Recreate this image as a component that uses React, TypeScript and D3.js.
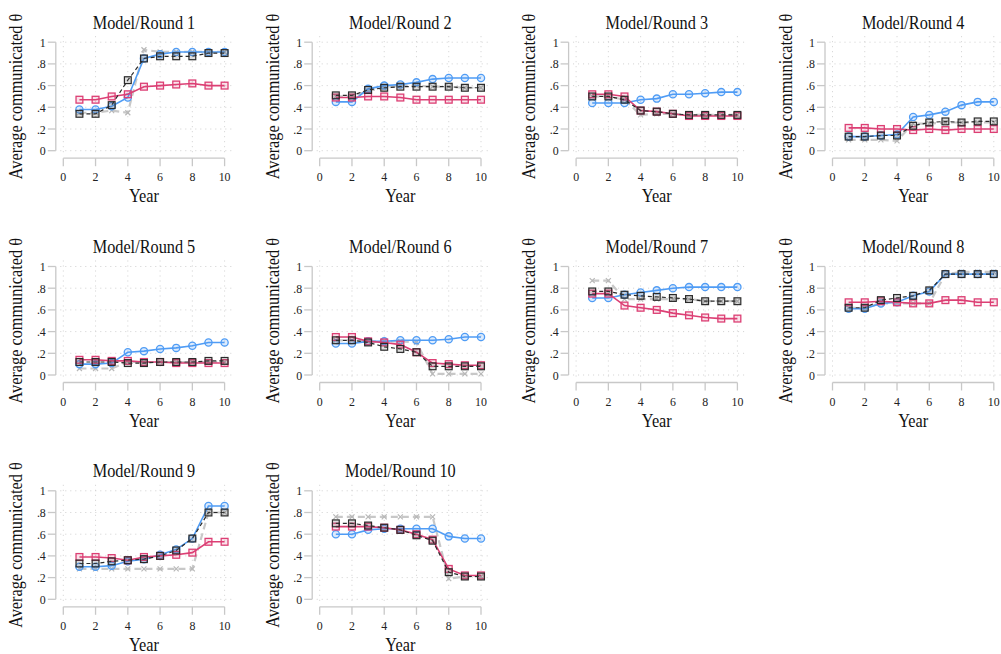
import React from "react";
import * as d3 from "d3";

const years = [1, 2, 3, 4, 5, 6, 7, 8, 9, 10];
const xTicks = [0, 2, 4, 6, 8, 10];
const yTicks = [0, 0.2, 0.4, 0.6, 0.8, 1];
const yTickLabels = ["0", ".2", ".4", ".6", ".8", "1"];
const panelTitles = [
  "Model/Round 1", "Model/Round 2", "Model/Round 3", "Model/Round 4", "Model/Round 5",
  "Model/Round 6", "Model/Round 7", "Model/Round 8", "Model/Round 9", "Model/Round 10",
];

// gray "x" series (long dashed)
const graySeries = [
  [0.35, 0.35, 0.37, 0.35, 0.93, 0.91, 0.91, 0.91, 0.91, 0.91],
  [0.5, 0.5, 0.55, 0.58, 0.6, 0.6, 0.59, 0.59, 0.58, 0.58],
  [0.5, 0.5, 0.47, 0.33, 0.34, 0.34, 0.33, 0.33, 0.33, 0.33],
  [0.1, 0.1, 0.1, 0.09, 0.25, 0.25, 0.26, 0.26, 0.26, 0.26],
  [0.06, 0.06, 0.06, 0.12, 0.12, 0.12, 0.12, 0.12, 0.12, 0.12],
  [0.32, 0.32, 0.31, 0.31, 0.31, 0.3, 0.01, 0.01, 0.01, 0.01],
  [0.87, 0.87, 0.7, 0.7, 0.7, 0.7, 0.7, 0.68, 0.68, 0.68],
  [0.62, 0.62, 0.66, 0.66, 0.66, 0.66, 0.93, 0.95, 0.95, 0.95],
  [0.28, 0.28, 0.28, 0.28, 0.28, 0.28, 0.28, 0.28, 0.8, 0.8],
  [0.76, 0.76, 0.76, 0.76, 0.76, 0.76, 0.76, 0.19, 0.21, 0.21],
];
// blue circle series
const blueSeries = [
  [0.38, 0.38, 0.41, 0.49, 0.85, 0.89, 0.91, 0.91, 0.91, 0.91],
  [0.45, 0.45, 0.57, 0.6, 0.61, 0.63, 0.66, 0.67, 0.67, 0.67],
  [0.44, 0.44, 0.44, 0.47, 0.48, 0.52, 0.52, 0.53, 0.54, 0.54],
  [0.13, 0.13, 0.14, 0.15, 0.31, 0.33, 0.36, 0.42, 0.45, 0.45],
  [0.1, 0.1, 0.11, 0.21, 0.22, 0.24, 0.25, 0.27, 0.3, 0.3],
  [0.29, 0.29, 0.31, 0.31, 0.32, 0.32, 0.32, 0.33, 0.35, 0.35],
  [0.71, 0.71, 0.74, 0.76, 0.78, 0.8, 0.81, 0.81, 0.81, 0.81],
  [0.61, 0.61, 0.66, 0.67, 0.73, 0.77, 0.93, 0.93, 0.93, 0.93],
  [0.3, 0.3, 0.31, 0.35, 0.37, 0.41, 0.46, 0.56, 0.86, 0.86],
  [0.6, 0.6, 0.64, 0.65, 0.65, 0.65, 0.65, 0.58, 0.56, 0.56],
];
// pink square series
const pinkSeries = [
  [0.47, 0.47, 0.5, 0.52, 0.59, 0.6, 0.61, 0.62, 0.6, 0.6],
  [0.49, 0.49, 0.5, 0.5, 0.49, 0.47, 0.47, 0.47, 0.47, 0.47],
  [0.52, 0.52, 0.5, 0.37, 0.36, 0.34, 0.32, 0.32, 0.32, 0.32],
  [0.21, 0.21, 0.2, 0.2, 0.19, 0.2, 0.19, 0.2, 0.2, 0.2],
  [0.14, 0.14, 0.13, 0.13, 0.12, 0.12, 0.11, 0.11, 0.11, 0.11],
  [0.35, 0.35, 0.31, 0.3, 0.28, 0.21, 0.11, 0.1, 0.09, 0.09],
  [0.75, 0.75, 0.64, 0.62, 0.6, 0.57, 0.55, 0.53, 0.52, 0.52],
  [0.67, 0.67, 0.68, 0.67, 0.66, 0.66, 0.69, 0.69, 0.67, 0.67],
  [0.39, 0.39, 0.38, 0.36, 0.39, 0.4, 0.41, 0.43, 0.53, 0.53],
  [0.67, 0.67, 0.67, 0.66, 0.64, 0.6, 0.55, 0.28, 0.22, 0.22],
];
// black dashed square series
const blackSeries = [
  [0.34, 0.34, 0.42, 0.65, 0.85, 0.87, 0.87, 0.87, 0.9, 0.9],
  [0.51, 0.51, 0.56, 0.58, 0.59, 0.59, 0.59, 0.59, 0.58, 0.58],
  [0.5, 0.5, 0.47, 0.37, 0.36, 0.34, 0.33, 0.33, 0.33, 0.33],
  [0.13, 0.13, 0.14, 0.14, 0.23, 0.26, 0.27, 0.26, 0.27, 0.27],
  [0.12, 0.12, 0.12, 0.11, 0.11, 0.12, 0.12, 0.12, 0.13, 0.13],
  [0.32, 0.32, 0.3, 0.26, 0.24, 0.21, 0.08, 0.08, 0.08, 0.08],
  [0.77, 0.77, 0.74, 0.73, 0.72, 0.71, 0.7, 0.68, 0.68, 0.68],
  [0.62, 0.62, 0.69, 0.71, 0.73, 0.78, 0.93, 0.93, 0.93, 0.93],
  [0.33, 0.33, 0.35, 0.36, 0.37, 0.4, 0.45, 0.56, 0.8, 0.8],
  [0.7, 0.7, 0.68, 0.66, 0.64, 0.59, 0.54, 0.25, 0.21, 0.21],
];

const FONT = "Liberation Serif, Times New Roman, serif";
const BLUE = "#4f9cf5";
const PINK = "#dc3f74";
const GRAY = "#c8c8c8";
const BLACK = "#2a2a2a";
const SX = 0.88;

function Txt({ x, y, rot = 0, size, anchor = "middle", fill = "#111", children }: any) {
  return (
    <text
      transform={`translate(${x},${y}) rotate(${rot}) scale(${SX},1)`}
      textAnchor={anchor}
      fontSize={size}
      style={{ fontFamily: FONT }}
      fill={fill}
    >
      {children}
    </text>
  );
}

function Panel({ idx }: { idx: number }) {
  const col = idx % 4;
  const row = Math.floor(idx / 4);
  const x0 = 63.3 + col * 256.4;
  const y0 = 150.7 + row * 224.3;
  const x = d3.scaleLinear().domain([0, 10]).range([x0, x0 + 161.3]);
  const y = d3.scaleLinear().domain([0, 1]).range([y0, y0 - 108.5]);
  const line = d3
    .line<number>()
    .x((_, i) => x(years[i]))
    .y((d) => y(d));

  const gLeft = x(0) - 3;
  const gRight = x(10) + 10;
  const gTop = y(1) - 6;
  const gBottom = y(0) + 5;
  const axisX = x(0) - 7.5;
  const axisY = y(0) + 7.5;
  const cx = (x(0) + x(10)) / 2;
  const cy = (y(0) + y(1)) / 2;

  const gray = graySeries[idx];
  const blue = blueSeries[idx];
  const pink = pinkSeries[idx];
  const black = blackSeries[idx];
  const s = 3.4;

  return (
    <g>
      {/* grid */}
      {yTicks.map((t) => (
        <line key={"gy" + t} x1={gLeft} x2={gRight} y1={y(t)} y2={y(t)} stroke="#d0d0d0" strokeWidth={1} strokeDasharray="1,4" />
      ))}
      {xTicks.map((t) => (
        <line key={"gx" + t} x1={x(t)} x2={x(t)} y1={gTop} y2={gBottom} stroke="#d0d0d0" strokeWidth={1} strokeDasharray="1,4" />
      ))}
      {/* y axis */}
      <line x1={axisX} x2={axisX} y1={y(1)} y2={y(0)} stroke="#c8c8c8" strokeWidth={1.3} />
      {yTicks.map((t, i) => (
        <g key={"yt" + t}>
          <line x1={axisX - 8} x2={axisX} y1={y(t)} y2={y(t)} stroke="#c8c8c8" strokeWidth={1.3} />
          <Txt x={axisX - 10} y={y(t) + 4.5} size={13.5} anchor="end" fill="#222">
            {yTickLabels[i]}
          </Txt>
        </g>
      ))}
      {/* x axis */}
      <line x1={x(0)} x2={x(10)} y1={axisY} y2={axisY} stroke="#c8c8c8" strokeWidth={1.3} />
      {xTicks.map((t) => (
        <g key={"xt" + t}>
          <line x1={x(t)} x2={x(t)} y1={axisY} y2={axisY + 8} stroke="#c8c8c8" strokeWidth={1.3} />
          <Txt x={x(t)} y={axisY + 23} size={13.5} fill="#222">
            {t}
          </Txt>
        </g>
      ))}
      {/* labels */}
      <Txt x={cx} y={y(1) - 13.5} size={18.5}>
        {panelTitles[idx]}
      </Txt>
      <Txt x={cx} y={axisY + 44} size={18.5}>
        Year
      </Txt>
      <Txt x={x(0) - 41} y={cy} rot={-90} size={18.5}>
        Average communicated θ
      </Txt>

      {/* gray series */}
      <path d={line(gray) || ""} fill="none" stroke={GRAY} strokeWidth={2.2} strokeDasharray="7,4" />
      {gray.map((v, i) => (
        <path
          key={"gm" + i}
          d={`M${x(years[i]) - 2.5},${y(v) - 2.5}L${x(years[i]) + 2.5},${y(v) + 2.5}M${x(years[i]) - 2.5},${y(v) + 2.5}L${x(years[i]) + 2.5},${y(v) - 2.5}`}
          stroke="#b8b8b8"
          strokeWidth={1.2}
        />
      ))}

      {/* blue series */}
      <path d={line(blue) || ""} fill="none" stroke={BLUE} strokeWidth={1.6} />
      {blue.map((v, i) => (
        <circle key={"bm" + i} cx={x(years[i])} cy={y(v)} r={3.6} fill="rgba(79,156,245,0.2)" stroke={BLUE} strokeWidth={1.3} />
      ))}

      {/* pink series */}
      <path d={line(pink) || ""} fill="none" stroke={PINK} strokeWidth={1.6} />
      {pink.map((v, i) => (
        <rect key={"pm" + i} x={x(years[i]) - s} y={y(v) - s} width={2 * s} height={2 * s} fill="rgba(220,63,116,0.15)" stroke={PINK} strokeWidth={1.3} />
      ))}

      {/* black dashed series */}
      <path d={line(black) || ""} fill="none" stroke={BLACK} strokeWidth={1.2} strokeDasharray="4,3" />
      {black.map((v, i) => (
        <rect key={"km" + i} x={x(years[i]) - s} y={y(v) - s} width={2 * s} height={2 * s} fill="rgba(90,90,90,0.2)" stroke={BLACK} strokeWidth={1.2} />
      ))}
    </g>
  );
}

export default function App() {
  return (
    <svg width={1001} height={654} style={{ position: "absolute", left: 0, top: 0, background: "#fff" }}>
      <rect width={1001} height={654} fill="#fff" />
      {panelTitles.map((_, i) => (
        <Panel key={i} idx={i} />
      ))}
    </svg>
  );
}
